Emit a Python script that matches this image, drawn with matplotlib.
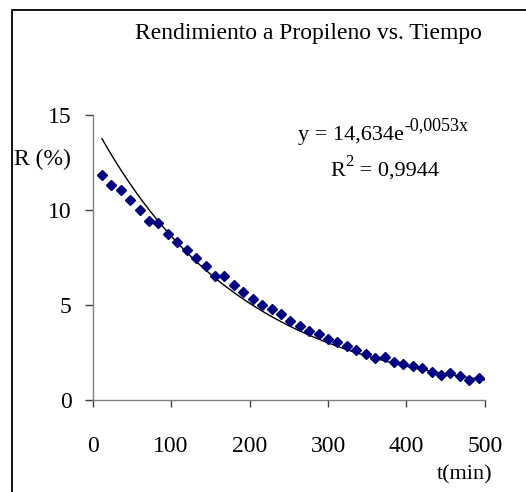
import numpy as np
import matplotlib.pyplot as plt
from matplotlib.patches import Rectangle

plt.rcParams['font.family'] = ['Liberation Serif', 'DejaVu Serif']

# tiempo (min) y rendimiento a propileno (%)
t = np.array([12, 24, 36, 48, 60, 72, 84, 96, 108, 120,
              132, 144, 156, 168, 180, 192, 204, 216, 228, 240,
              252, 264, 276, 288, 300, 312, 324, 336, 348, 360,
              372, 384, 396, 408, 420, 432, 444, 456, 468, 480, 492])
R = np.array([11.81, 11.28, 11.02, 10.51, 10.00, 9.42, 9.32, 8.72, 8.29, 7.89,
              7.45, 7.03, 6.51, 6.51, 6.02, 5.66, 5.31, 4.98, 4.74, 4.48,
              4.13, 3.86, 3.62, 3.44, 3.19, 3.03, 2.83, 2.59, 2.42, 2.20,
              2.26, 1.98, 1.89, 1.75, 1.65, 1.47, 1.30, 1.40, 1.23, 1.02, 1.14])

# ajuste exponencial
a, b = 14.634, -0.0053
t_fit = np.linspace(12, 503, 100)
R_fit = a * np.exp(b * t_fit)

fig = plt.figure(figsize=(5.26, 4.92), dpi=100)
ax = fig.add_axes([0.176, 0.188, 0.746, 0.579])

ax.plot(t_fit, R_fit, color='black', lw=1.0)
ax.plot(t, R, 'D', color='#000080', ms=5, mec='#000080', clip_on=False)

ax.set_xlim(0, 500)
ax.set_ylim(0, 15)
ax.set_xticks([0, 100, 200, 300, 400, 500])
ax.set_yticks([0, 5, 10, 15])

for s in ['top', 'right']:
    ax.spines[s].set_visible(False)
for s in ['left', 'bottom']:
    ax.spines[s].set_color('#808080')
    ax.spines[s].set_linewidth(1.0)

ax.tick_params(axis='x', direction='out', length=5, width=1, color='#404040',
               labelsize=17, pad=21)
ax.tick_params(axis='y', direction='out', length=6, width=1, color='#404040',
               labelsize=17, pad=9)

fig.text(0.586, 0.931, 'Rendimiento a Propileno vs. Tiempo', fontsize=17,
         ha='center', va='center')
fig.text(0.027, 0.675, 'R (%)', fontsize=17, ha='left', va='center')
fig.text(0.937, 0.035, 't(min)', fontsize=16, ha='right', va='center')

# ecuacion de la linea de tendencia
eq = fig.text(0.567, 0.724, 'y = 14,634e', fontsize=16, ha='left', va='center')
ax.annotate('-0,0053x', xy=(1.0, 0.8), xycoords=eq, fontsize=13,
            ha='left', va='baseline')
r2 = fig.text(0.629, 0.652, 'R', fontsize=16, ha='left', va='center')
sup2 = ax.annotate('2', xy=(1.0, 0.8), xycoords=r2, fontsize=12,
                   ha='left', va='baseline')
ax.annotate(' = 0,9944', xy=(1.0, 0.5), xycoords=(sup2, r2), fontsize=16,
            ha='left', va='center')

# marco exterior (solo visible arriba e izquierda)
fig.patches.append(Rectangle((12 / 526, -0.05), 1.2, 1 - 10 / 492 + 0.05,
                             transform=fig.transFigure, fill=False,
                             edgecolor='black', lw=1.3))

fig.savefig('out.png', dpi=100)
